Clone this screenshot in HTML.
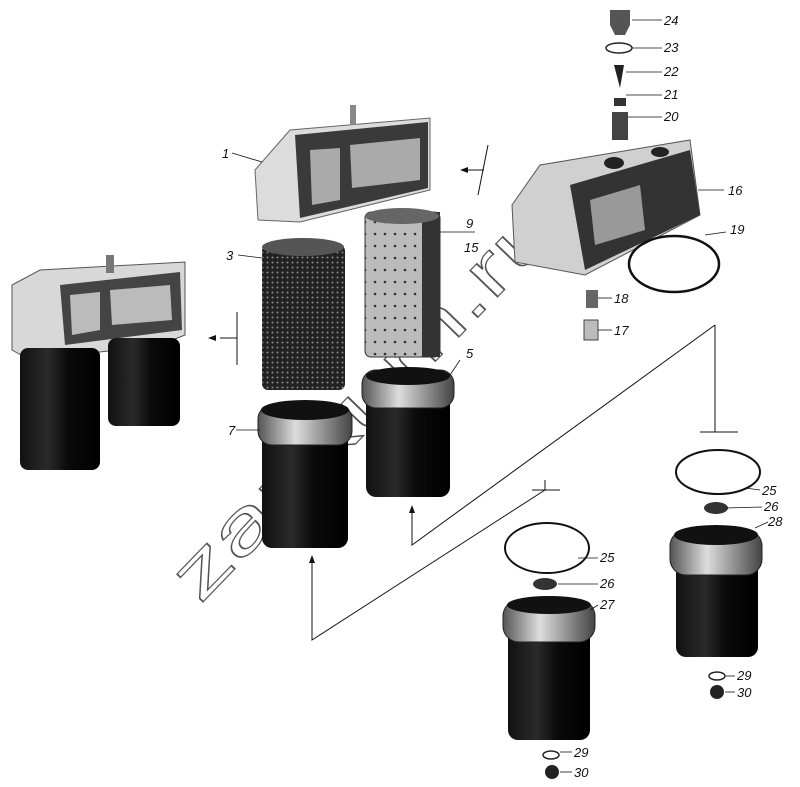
<!DOCTYPE html>
<html><head><meta charset="utf-8"><style>
html,body{margin:0;padding:0;background:#fff;}
svg{display:block;}
text{font-family:"Liberation Sans",sans-serif;font-style:italic;font-size:13px;fill:#111;}
</style></head><body>
<svg width="800" height="787" viewBox="0 0 800 787" xmlns="http://www.w3.org/2000/svg">
<defs>
<linearGradient id="cyl" x1="0" x2="1" y1="0" y2="0">
<stop offset="0" stop-color="#111"/><stop offset="0.35" stop-color="#2a2a2a"/><stop offset="0.6" stop-color="#0a0a0a"/><stop offset="1" stop-color="#000"/></linearGradient>
<linearGradient id="rim" x1="0" x2="1"><stop offset="0" stop-color="#555"/><stop offset="0.4" stop-color="#ddd"/><stop offset="1" stop-color="#444"/></linearGradient>
<pattern id="mesh" width="5" height="5" patternUnits="userSpaceOnUse"><rect width="5" height="5" fill="#222"/><circle cx="2.5" cy="2.5" r="1" fill="#888"/></pattern>
<pattern id="perf" width="10" height="12" patternUnits="userSpaceOnUse"><rect width="10" height="12" fill="#bbb"/><circle cx="5" cy="6" r="1.3" fill="#333"/></pattern>
</defs>

<!-- watermark -->
<text x="0" y="0" transform="translate(200,605) rotate(-46)" textLength="520" lengthAdjust="spacingAndGlyphs" style="font-size:72px;font-style:normal;fill:none;stroke:#555;stroke-width:1.2">zapkum.ru</text>

<!-- connector lines -->
<g stroke="#111" stroke-width="1" fill="none">
<path d="M715,325 L715,432 M700,432 L738,432"/>
<path d="M715,325 L412,545 L412,510"/>
<path d="M545,480 L545,490 M532,490 L560,490 M545,490 L312,640 L312,560"/>
<path d="M237,312 L237,365 M220,338 L237,338"/>
<path d="M488,145 L478,195 M462,170 L484,170"/>
</g>
<g fill="#111">
<polygon points="412,505 409,513 415,513"/>
<polygon points="312,555 309,563 315,563"/>
<polygon points="208,338 216,335 216,341"/>
<polygon points="460,170 468,167 468,173"/>
</g>

<!-- left assembly -->
<path d="M12,285 L40,270 L185,262 L185,335 L160,345 L30,360 L12,350 Z" fill="#d8d8d8" stroke="#555"/>
<path d="M60,285 L180,272 L182,330 L65,345 Z" fill="#444"/>
<path d="M70,295 L100,292 L100,330 L72,335 Z M110,290 L170,285 L172,320 L112,325 Z" fill="#bbb"/>
<rect x="20" y="348" width="80" height="122" rx="8" fill="url(#cyl)"/>
<rect x="108" y="338" width="72" height="88" rx="8" fill="url(#cyl)"/>
<rect x="106" y="255" width="8" height="18" fill="#777"/>

<!-- head 1 -->
<path d="M255,170 L290,130 L430,118 L430,190 L300,222 L258,220 Z" fill="#dcdcdc" stroke="#666"/>
<path d="M295,135 L428,122 L428,188 L300,218 Z" fill="#3a3a3a"/>
<path d="M310,150 L340,148 L340,200 L312,205 Z M350,145 L420,138 L420,180 L352,188 Z" fill="#aaa"/>
<rect x="350" y="105" width="6" height="20" fill="#888"/>

<!-- filter 3 -->
<rect x="262" y="245" width="83" height="145" rx="6" fill="url(#mesh)"/>
<ellipse cx="303" cy="247" rx="41" ry="9" fill="#555"/>
<!-- filter 9 -->
<rect x="365" y="212" width="75" height="145" rx="6" fill="url(#perf)" stroke="#333"/>
<rect x="422" y="212" width="18" height="145" fill="#333"/>
<ellipse cx="402" cy="216" rx="37" ry="8" fill="#666"/>

<!-- cup 7 -->
<rect x="262" y="425" width="86" height="123" rx="10" fill="url(#cyl)"/>
<rect x="258" y="405" width="94" height="40" rx="14" fill="url(#rim)" stroke="#222"/>
<ellipse cx="305" cy="410" rx="44" ry="10" fill="#111"/>
<!-- cup 5 -->
<rect x="366" y="395" width="84" height="102" rx="10" fill="url(#cyl)"/>
<rect x="362" y="370" width="92" height="38" rx="14" fill="url(#rim)" stroke="#222"/>
<ellipse cx="408" cy="376" rx="42" ry="9" fill="#111"/>

<!-- head 16 -->
<path d="M512,205 L540,165 L690,140 L700,215 L585,275 L515,262 Z" fill="#d0d0d0" stroke="#555"/>
<path d="M570,185 L690,150 L700,215 L585,270 Z" fill="#333"/>
<path d="M590,200 L640,185 L645,230 L595,245 Z" fill="#999"/>
<ellipse cx="614" cy="163" rx="10" ry="6" fill="#222"/>
<ellipse cx="660" cy="152" rx="9" ry="5" fill="#222"/>
<ellipse cx="674" cy="264" rx="45" ry="28" fill="none" stroke="#111" stroke-width="2.5"/>

<!-- small parts top -->
<path d="M610,10 L630,10 L630,25 L625,35 L615,35 L610,25 Z" fill="#555"/>
<ellipse cx="619" cy="48" rx="13" ry="5" fill="none" stroke="#222" stroke-width="1.5"/>
<path d="M614,65 L624,65 L620,88 Z" fill="#222"/>
<rect x="614" y="98" width="12" height="8" fill="#333"/>
<rect x="612" y="112" width="16" height="28" fill="#444"/>
<rect x="586" y="290" width="12" height="18" fill="#666"/>
<rect x="584" y="320" width="14" height="20" fill="#bbb" stroke="#444"/>

<!-- cup 28 -->
<ellipse cx="718" cy="472" rx="42" ry="22" fill="none" stroke="#111" stroke-width="2"/>
<ellipse cx="716" cy="508" rx="12" ry="6" fill="#333"/>
<rect x="676" y="555" width="82" height="102" rx="10" fill="url(#cyl)"/>
<rect x="670" y="530" width="92" height="45" rx="16" fill="url(#rim)" stroke="#222"/>
<ellipse cx="716" cy="535" rx="42" ry="10" fill="#111"/>
<ellipse cx="717" cy="676" rx="8" ry="4" fill="none" stroke="#222" stroke-width="1.5"/>
<circle cx="717" cy="692" r="7" fill="#222"/>

<!-- cup 27 -->
<ellipse cx="547" cy="548" rx="42" ry="25" fill="none" stroke="#111" stroke-width="2"/>
<ellipse cx="545" cy="584" rx="12" ry="6" fill="#333"/>
<rect x="508" y="625" width="82" height="115" rx="10" fill="url(#cyl)"/>
<rect x="503" y="600" width="92" height="42" rx="16" fill="url(#rim)" stroke="#222"/>
<ellipse cx="549" cy="605" rx="42" ry="9" fill="#111"/>
<ellipse cx="551" cy="755" rx="8" ry="4" fill="none" stroke="#222" stroke-width="1.5"/>
<circle cx="552" cy="772" r="7" fill="#222"/>

<!-- leader lines -->
<g stroke="#111" stroke-width="0.8">
<line x1="232" y1="153" x2="262" y2="162"/>
<line x1="238" y1="255" x2="262" y2="258"/>
<line x1="236" y1="430" x2="260" y2="430"/>
<line x1="460" y1="360" x2="450" y2="375"/>
<line x1="440" y1="232" x2="475" y2="232"/>
<line x1="632" y1="20" x2="662" y2="20"/><line x1="632" y1="48" x2="662" y2="48"/>
<line x1="626" y1="72" x2="662" y2="72"/><line x1="626" y1="95" x2="662" y2="95"/>
<line x1="628" y1="117" x2="662" y2="117"/><line x1="698" y1="190" x2="724" y2="190"/>
<line x1="705" y1="235" x2="726" y2="232"/><line x1="598" y1="298" x2="612" y2="298"/>
<line x1="598" y1="330" x2="612" y2="330"/>
<line x1="745" y1="488" x2="760" y2="490"/><line x1="726" y1="508" x2="762" y2="507"/>
<line x1="755" y1="528" x2="768" y2="522"/>
<line x1="578" y1="558" x2="598" y2="558"/><line x1="558" y1="584" x2="598" y2="584"/>
<line x1="590" y1="610" x2="598" y2="605"/>
<line x1="560" y1="752" x2="572" y2="752"/><line x1="560" y1="772" x2="572" y2="772"/>
<line x1="726" y1="676" x2="735" y2="676"/><line x1="725" y1="692" x2="735" y2="692"/>
</g>

<!-- labels -->
<text x="222" y="158">1</text>
<text x="226" y="260">3</text>
<text x="228" y="435">7</text>
<text x="466" y="358">5</text>
<text x="466" y="228">9</text>
<text x="464" y="252">15</text>
<text x="664" y="25">24</text>
<text x="664" y="52">23</text>
<text x="664" y="76">22</text>
<text x="664" y="99">21</text>
<text x="664" y="121">20</text>
<text x="728" y="195">16</text>
<text x="730" y="234">19</text>
<text x="614" y="303">18</text>
<text x="614" y="335">17</text>
<text x="762" y="495">25</text>
<text x="764" y="511">26</text>
<text x="768" y="526">28</text>
<text x="600" y="562">25</text>
<text x="600" y="588">26</text>
<text x="600" y="609">27</text>
<text x="574" y="757">29</text>
<text x="574" y="777">30</text>
<text x="737" y="680">29</text>
<text x="737" y="697">30</text>
</svg>
</body></html>
